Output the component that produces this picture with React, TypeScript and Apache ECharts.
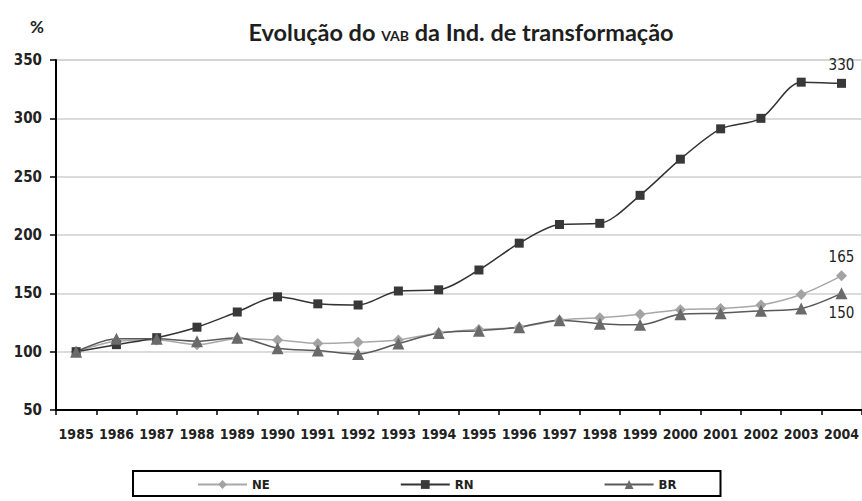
import React, { useEffect, useRef } from "react";
import * as echarts from "echarts";

const years = ["1985","1986","1987","1988","1989","1990","1991","1992","1993","1994","1995","1996","1997","1998","1999","2000","2001","2002","2003","2004"];
const neValues = [100,109,110,106,111,110,107,108,110,116,119,121,127,129,132,136,137,140,149,165];
const rnValues = [100,106,112,121,134,147,141,140,152,153,170,193,209,210,234,265,291,300,331,330];
const brValues = [100,111,111,109,112,103,101,98,107,116,118,121,127,124,123,132,133,135,137,150];

const FONT = "'Liberation Sans Narrow', 'DejaVu Sans Condensed', 'Roboto', sans-serif";

function lastLabel(values: number[], pos: string) {
  return values.map((v, i) =>
    i === values.length - 1
      ? { value: v, label: { show: true, position: pos, formatter: String(v), fontFamily: FONT, fontSize: 15, color: "#222", distance: 6 } }
      : v
  );
}

export default function App() {
  const ref = useRef<HTMLDivElement>(null);
  useEffect(() => {
    document.body.style.margin = "0";
    const chart = echarts.init(ref.current!, null, { renderer: "svg" });
    chart.setOption({
      animation: false,
      backgroundColor: "#fff",
      title: {
        text: "Evolução do {s|VAB} da Ind. de transformação",
        left: 456,
        textAlign: "center",
        top: 14,
        textStyle: {
          fontFamily: "Lato, 'Open Sans', sans-serif",
          fontWeight: "bold",
          fontSize: 23.5,
          lineHeight: 26,
          color: "#1e1e1e",
          rich: {
            s: { fontFamily: "Lato, sans-serif", fontWeight: "bold", fontSize: 14, lineHeight: 20, padding: [6, 0, 0, 0], color: "#1e1e1e" },
          },
        },
      },
      graphic: [
        { type: "text", left: 30, top: 18, style: { text: "%", font: "bold 17px Lato, sans-serif", fill: "#222" } },
      ],
      grid: { left: 56, right: 0, top: 60, bottom: 91, show: true, borderColor: "#d0d0d0", borderWidth: 1 },
      legend: {
        left: 133,
        top: 471,
        itemWidth: 49,
        itemHeight: 11,
        itemGap: 130,
        padding: [7, 44, 5, 64],
        borderColor: "#000",
        borderWidth: 2,
        textStyle: { fontFamily: FONT, fontWeight: "bold", fontSize: 13, color: "#222" },
        data: ["NE", "RN", "BR"],
      },
      xAxis: {
        type: "category",
        data: years,
        boundaryGap: true,
        axisLine: { lineStyle: { color: "#000", width: 2 } },
        axisTick: { show: true, alignWithLabel: false, length: 5, lineStyle: { color: "#000", width: 1.5 } },
        axisLabel: { fontFamily: FONT, fontWeight: "bold", fontSize: 14, color: "#222", margin: 17, interval: 0 },
      },
      yAxis: {
        type: "value",
        min: 50,
        max: 350,
        interval: 50,
        axisLine: { show: true, lineStyle: { color: "#000", width: 2 } },
        axisTick: { show: true, length: 6, lineStyle: { color: "#000", width: 1.5 } },
        axisLabel: { fontFamily: FONT, fontWeight: "bold", fontSize: 15, color: "#222", margin: 14 },
        splitLine: { lineStyle: { color: "#cfcfcf", width: 1.5 } },
      },
      series: [
        {
          name: "NE",
          type: "line",
          data: lastLabel(neValues, "top"),
          smooth: 0.3,
          symbol: "diamond",
          symbolSize: 11,
          itemStyle: { color: "#a3a3a3" },
          lineStyle: { color: "#a8a8a8", width: 1.5 },
        },
        {
          name: "RN",
          type: "line",
          data: lastLabel(rnValues, "top"),
          smooth: 0.3,
          symbol: "rect",
          symbolSize: 9,
          itemStyle: { color: "#383838" },
          lineStyle: { color: "#333", width: 1.5 },
        },
        {
          name: "BR",
          type: "line",
          data: lastLabel(brValues, "bottom"),
          smooth: 0.3,
          symbol: "triangle",
          symbolSize: 12,
          itemStyle: { color: "#6a6a6a" },
          lineStyle: { color: "#5a5a5a", width: 1.5 },
        },
      ],
    });
    return () => chart.dispose();
  }, []);
  return <div ref={ref} style={{ width: 862, height: 501 }} />;
}
